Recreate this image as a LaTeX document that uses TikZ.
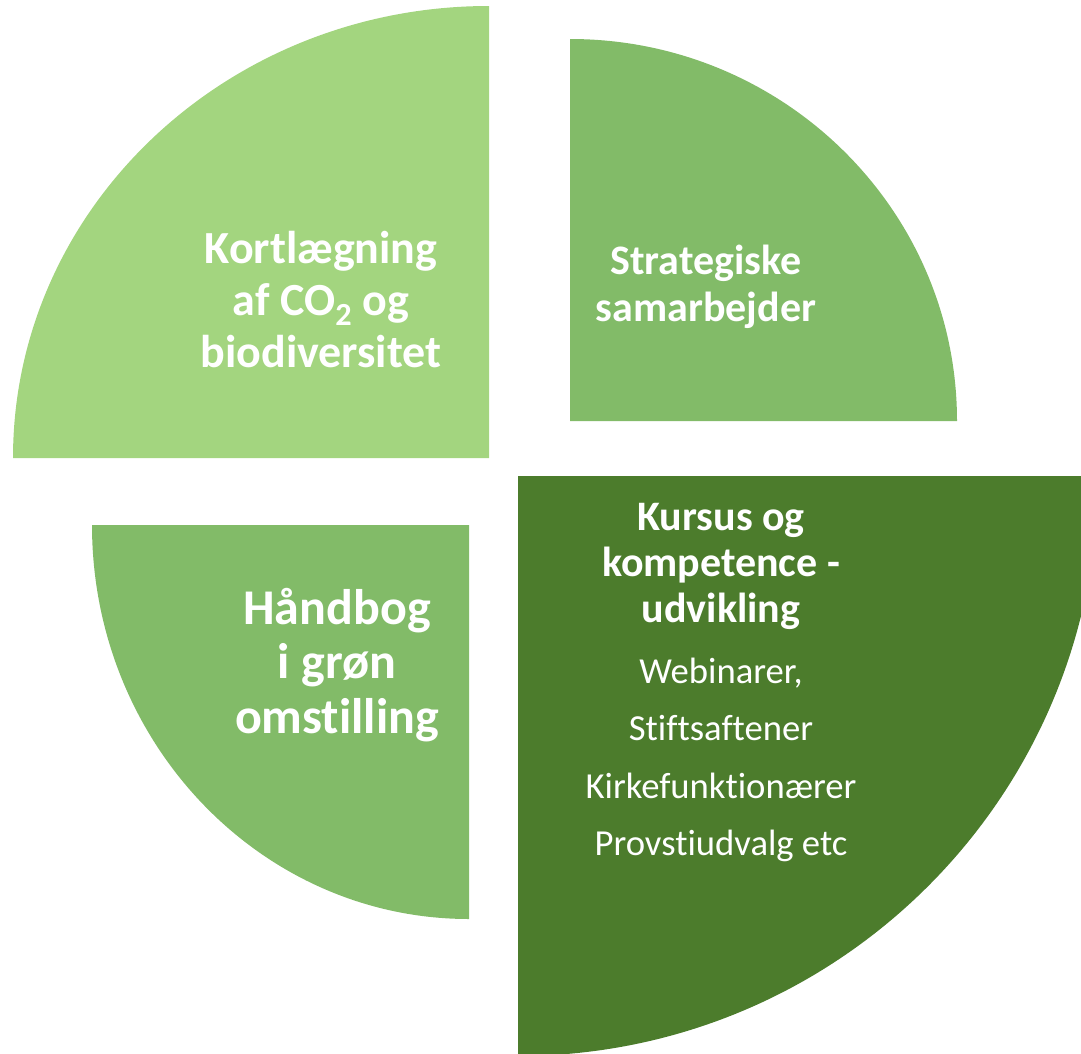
\documentclass[tikz,border=0pt]{standalone}
\usepackage{fontspec}
\setmainfont{Carlito}[Ligatures=NoCommon]
\definecolor{lightleaf}{HTML}{A3D57F}
\definecolor{midleaf}{HTML}{82BB68}
\definecolor{darkleaf}{HTML}{4C7C2C}
\begin{document}
\begin{tikzpicture}[x=0.75pt, y=-0.75pt,
    sectortext/.style 2 args={text=white, align=center, inner sep=0pt, font=\fontsize{#1}{#2}\selectfont\bfseries},
    listtext/.style={text=white, align=center, inner sep=0pt, font=\fontsize{27.5}{43}\selectfont}
]
    \useasboundingbox (0,0) rectangle (1081,1053);
    \clip (0,0) rectangle (1081,1053);

    % Quarter sectors
    \fill[lightleaf] (489,458) -- (13,458) arc[start angle=180, end angle=270, x radius=476, y radius=452] -- cycle;
    \fill[midleaf] (570,421) -- (570,39) arc[start angle=270, end angle=360, x radius=387, y radius=382] -- cycle;
    \fill[midleaf] (469,525) -- (92,525) arc[start angle=180, end angle=90, x radius=377, y radius=394] -- cycle;
    \fill[darkleaf] (518,476) -- (1098,476) arc[start angle=0, end angle=90, radius=580] -- cycle;

    % Texts
    \node[sectortext={34.5}{39}] (mapping) at (321,300) {Kortlægning\\af CO\textsubscript{2} og\\biodiversitet};
    \node[sectortext={31.5}{35}] (partners) at (706,287) {Strategiske\\samarbejder};
    \node[sectortext={37.5}{41}] (handbook) at (337,665) {Håndbog\\i grøn\\omstilling};
    \node[sectortext={31.5}{34.5}] (courses) at (721,566) {Kursus og\\kompetence -\\udvikling};
    \node[listtext] (activities) at (721,760) {Webinarer,\\Stiftsaftener\\Kirkefunktionærer\\Provstiudvalg etc};

\end{tikzpicture}
\end{document}
